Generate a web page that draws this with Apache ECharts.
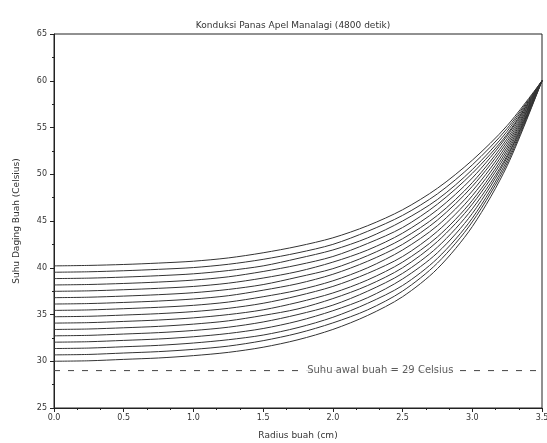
<!DOCTYPE html>
<html>
<head>
<meta charset="utf-8">
<script src="https://cdn.jsdelivr.net/npm/echarts@6/dist/echarts.min.js"></script>
<style>
  html, body { margin: 0; padding: 0; background: #fff; }
  #chart { width: 547px; height: 443px; }
</style>
</head>
<body>
<div id="chart"></div>
<script>
// radius (cm)
var radius = [0, 0.25, 0.5, 0.75, 1.0, 1.25, 1.5, 1.75, 2.0, 2.25, 2.5, 2.75, 3.0, 3.25, 3.5];

// suhu daging buah tiap interval waktu (dari bawah ke atas)
var kurva = [
    [30.00, 30.05, 30.20, 30.35, 30.60, 30.95, 31.5, 32.3, 33.4, 34.9, 36.9, 39.9, 44.4, 50.9, 60],
    [30.68, 30.73, 30.88, 31.03, 31.27, 31.62, 32.2, 33.0, 34.1, 35.5, 37.5, 40.5, 44.9, 51.2, 60],
    [31.36, 31.41, 31.55, 31.70, 31.95, 32.30, 32.8, 33.6, 34.7, 36.2, 38.1, 41.0, 45.3, 51.5, 60],
    [32.04, 32.09, 32.23, 32.38, 32.62, 32.97, 33.5, 34.3, 35.4, 36.8, 38.8, 41.6, 45.8, 51.8, 60],
    [32.72, 32.77, 32.91, 33.06, 33.29, 33.64, 34.2, 35.0, 36.0, 37.5, 39.4, 42.2, 46.3, 52.0, 60],
    [33.40, 33.45, 33.58, 33.73, 33.97, 34.32, 34.9, 35.6, 36.7, 38.1, 40.0, 42.8, 46.8, 52.3, 60],
    [34.08, 34.13, 34.26, 34.41, 34.64, 34.99, 35.5, 36.3, 37.3, 38.7, 40.6, 43.3, 47.2, 52.6, 60],
    [34.76, 34.81, 34.94, 35.09, 35.31, 35.66, 36.2, 37.0, 38.0, 39.4, 41.2, 43.9, 47.7, 52.9, 60],
    [35.44, 35.49, 35.62, 35.77, 35.98, 36.33, 36.9, 37.6, 38.6, 40.0, 41.9, 44.5, 48.2, 53.2, 60],
    [36.12, 36.17, 36.29, 36.44, 36.66, 37.01, 37.6, 38.3, 39.3, 40.7, 42.5, 45.1, 48.7, 53.5, 60],
    [36.80, 36.85, 36.97, 37.12, 37.33, 37.68, 38.2, 39.0, 39.9, 41.3, 43.1, 45.6, 49.1, 53.8, 60],
    [37.48, 37.53, 37.65, 37.80, 38.00, 38.35, 38.9, 39.6, 40.6, 41.9, 43.7, 46.2, 49.6, 54.1, 60],
    [38.16, 38.21, 38.32, 38.47, 38.68, 39.03, 39.6, 40.3, 41.2, 42.6, 44.3, 46.8, 50.1, 54.3, 60],
    [38.84, 38.89, 39.00, 39.15, 39.35, 39.70, 40.2, 41.0, 41.9, 43.2, 45.0, 47.3, 50.5, 54.6, 60],
    [39.52, 39.57, 39.68, 39.83, 40.02, 40.37, 40.9, 41.6, 42.5, 43.9, 45.6, 47.9, 51.0, 54.9, 60],
    [40.20, 40.25, 40.35, 40.50, 40.70, 41.05, 41.6, 42.3, 43.2, 44.5, 46.2, 48.5, 51.5, 55.2, 60]
];

var suhuAwal = 29;
var labelAwal = 'Suhu awal buah = 29 Celsius';

var chart = echarts.init(document.getElementById('chart'));

var series = [];
for (var i = 0; i < kurva.length; i++) {
    var pts = [];
    for (var j = 0; j < radius.length; j++) {
        pts.push([radius[j], kurva[i][j]]);
    }
    series.push({
        type: 'line',
        data: pts,
        smooth: 0.3,
        showSymbol: false,
        silent: true,
        lineStyle: { color: '#333', width: 1 },
        z: 3
    });
}

// garis suhu awal
series.push({
    type: 'line',
    data: [[0, suhuAwal], [3.5, suhuAwal]],
    showSymbol: false,
    silent: true,
    lineStyle: { color: '#444', width: 1, type: [6, 8] },
    z: 2
});
series.push({
    type: 'scatter',
    data: [[2.34, suhuAwal]],
    symbolSize: 0,
    silent: true,
    label: {
        show: true,
        position: 'inside',
        formatter: labelAwal,
        color: '#333',
        fontSize: 10,
        fontFamily: 'DejaVu Sans',
        backgroundColor: '#fff',
        padding: [0, 2]
    },
    z: 4
});

chart.setOption({
    animation: false,
    title: {
        text: 'Konduksi Panas Apel Manalagi (4800 detik)',
        left: 288,
        textAlign: 'center',
        top: 16,
        textStyle: { fontSize: 9, fontWeight: 'normal', color: '#333', fontFamily: 'DejaVu Sans' }
    },
    grid: {
        left: 54, right: 5, top: 34, bottom: 35,
        outerBoundsMode: 'none',
        containLabel: false,
        show: true,
        borderColor: '#222',
        borderWidth: 1
    },
    xAxis: {
        type: 'value',
        min: 0, max: 3.5, interval: 0.5,
        name: 'Radius buah (cm)',
        nameLocation: 'middle',
        nameGap: 23,
        nameTextStyle: { fontSize: 9, color: '#333', fontFamily: 'DejaVu Sans' },
        axisLine: { lineStyle: { color: '#222' } },
        axisTick: { show: true, length: 4, lineStyle: { color: '#222' } },
        minorTick: { show: true, splitNumber: 3, length: 2, lineStyle: { color: '#222' } },
        axisLabel: {
            fontSize: 8, color: '#333', fontFamily: 'DejaVu Sans', margin: 6,
            formatter: function (v) { return v.toFixed(1); }
        },
        splitLine: { show: false }
    },
    yAxis: {
        type: 'value',
        min: 25, max: 65, interval: 5,
        name: 'Suhu Daging Buah (Celsius)',
        nameLocation: 'middle',
        nameGap: 33,
        nameTextStyle: { fontSize: 9, color: '#333', fontFamily: 'DejaVu Sans' },
        axisLine: { show: true, lineStyle: { color: '#222' } },
        axisTick: { show: true, length: 4, lineStyle: { color: '#222' } },
        minorTick: { show: true, splitNumber: 2, length: 2, lineStyle: { color: '#222' } },
        axisLabel: { fontSize: 8, color: '#333', fontFamily: 'DejaVu Sans', margin: 7 },
        splitLine: { show: false }
    },
    series: series
});
</script>
</body>
</html>
